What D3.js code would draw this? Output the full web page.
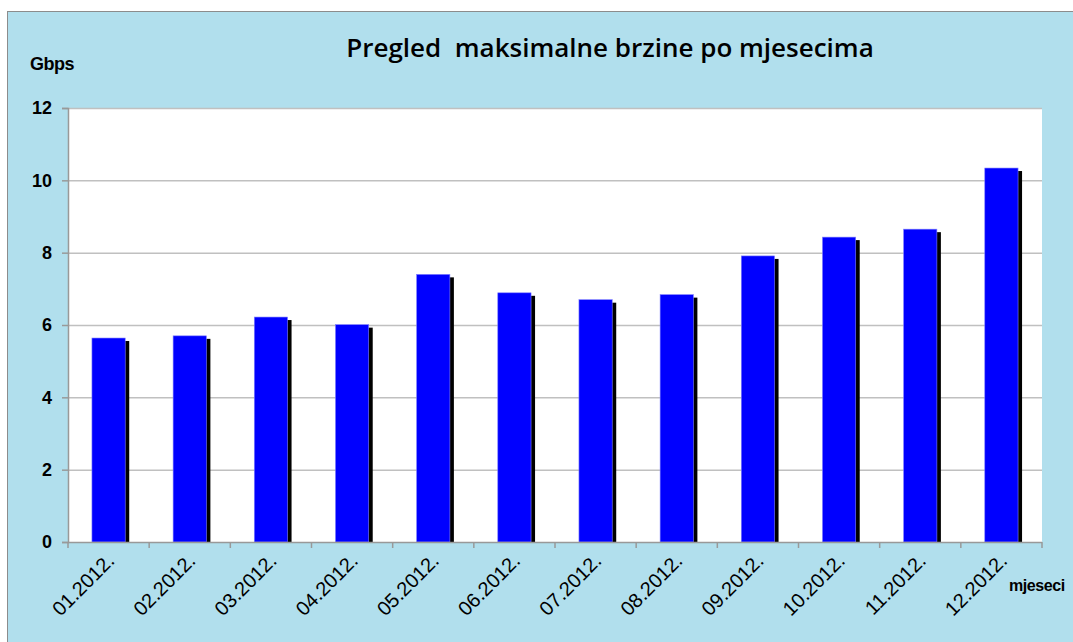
<!DOCTYPE html>
<html>
<head>
<meta charset="utf-8">
<script src="https://cdn.jsdelivr.net/npm/d3@7"></script>
<style>
  body { margin: 0; background: #fff; }
  svg { display: block; }
</style>
</head>
<body>
<svg id="chart" width="1073" height="642"></svg>
<script>
// data
var months = ["01.2012.", "02.2012.", "03.2012.", "04.2012.", "05.2012.", "06.2012.",
              "07.2012.", "08.2012.", "09.2012.", "10.2012.", "11.2012.", "12.2012."];
var speeds = [5.64, 5.70, 6.22, 6.01, 7.40, 6.89, 6.70, 6.84, 7.91, 8.43, 8.65, 10.34];
var yTicks = [0, 2, 4, 6, 8, 10, 12];

var svg = d3.select("#chart");

// panel
svg.append("rect")
    .attr("x", 7.5).attr("y", 11.5)
    .attr("width", 1080).attr("height", 650)
    .attr("fill", "#b1dfed")
    .attr("stroke", "#8c8c8c");

var margin = {left: 68, top: 108, right: 1042, bottom: 542};

var x = d3.scaleBand()
    .domain(months)
    .range([margin.left, margin.right])
    .paddingInner(0.59).paddingOuter(0.295);

var y = d3.scaleLinear()
    .domain([0, 12])
    .range([margin.bottom, margin.top]);

// plot area
svg.append("rect")
    .attr("x", margin.left).attr("y", margin.top)
    .attr("width", margin.right - margin.left)
    .attr("height", margin.bottom - margin.top)
    .attr("fill", "#fff");

// gridlines
svg.append("g")
    .selectAll("line")
    .data(yTicks.slice(1))
    .enter()
    .append("line")
    .attr("x1", margin.left).attr("x2", margin.right)
    .attr("y1", function (d) { return y(d) + 0.5; })
    .attr("y2", function (d) { return y(d) + 0.5; })
    .attr("stroke", "#c0c0c0")
    .attr("stroke-width", 1.5);

// bars, shadow first
svg.append("g")
    .selectAll("rect")
    .data(speeds)
    .enter()
    .append("rect")
    .attr("x", function (d, i) { return x(months[i]) + 4; })
    .attr("y", function (d) { return y(d) + 3; })
    .attr("width", x.bandwidth())
    .attr("height", function (d) { return margin.bottom - y(d) - 3; })
    .attr("fill", "#000");

svg.append("g")
    .selectAll("rect")
    .data(speeds)
    .enter()
    .append("rect")
    .attr("x", function (d, i) { return x(months[i]); })
    .attr("y", function (d) { return y(d); })
    .attr("width", x.bandwidth())
    .attr("height", function (d) { return margin.bottom - y(d); })
    .attr("fill", "#0000ff")
    .attr("stroke", "#8080ff")
    .attr("stroke-width", 0.6);

// y axis
var yAxis = svg.append("g")
    .attr("transform", "translate(" + margin.left + ",0)")
    .call(d3.axisLeft(y).tickValues(yTicks).tickSize(6).tickPadding(10));
yAxis.select(".domain").attr("stroke", "#999").attr("stroke-width", 1.5);
yAxis.selectAll(".tick line").attr("stroke", "#999").attr("stroke-width", 1.5);
yAxis.selectAll("text")
    .style("font-family", "Arial, 'Liberation Sans', sans-serif")
    .style("font-size", "18px")
    .style("font-weight", "bold")
    .attr("fill", "#000");

// x axis, ticks on the category boundaries
var bounds = d3.range(months.length + 1).map(function (i) {
    return margin.left + i * (margin.right - margin.left) / months.length;
});
svg.append("line")
    .attr("x1", margin.left).attr("x2", margin.right)
    .attr("y1", margin.bottom + 0.5).attr("y2", margin.bottom + 0.5)
    .attr("stroke", "#999").attr("stroke-width", 1.5);
svg.append("g")
    .selectAll("line")
    .data(bounds)
    .enter()
    .append("line")
    .attr("x1", function (d) { return d; })
    .attr("x2", function (d) { return d; })
    .attr("y1", margin.bottom).attr("y2", margin.bottom + 6)
    .attr("stroke", "#999").attr("stroke-width", 1.5);

svg.append("g")
    .selectAll("text")
    .data(months)
    .enter()
    .append("text")
    .attr("transform", function (d) {
        return "translate(" + (x(d) + x.bandwidth() / 2 + 7) + "," + (margin.bottom + 20) + ") rotate(-45)";
    })
    .attr("text-anchor", "end")
    .style("font-family", "Arial, 'Liberation Sans', sans-serif")
    .style("font-size", "20px")
    .attr("fill", "#000")
    .text(function (d) { return d; });

// titles
svg.append("text")
    .attr("x", 610).attr("y", 57)
    .attr("text-anchor", "middle")
    .style("font-family", "'Open Sans', sans-serif")
    .style("font-size", "26px")
    .style("font-weight", "600")
    .style("white-space", "pre")
    .attr("fill", "#000")
    .text("Pregled  maksimalne brzine po mjesecima");

svg.append("text")
    .attr("x", 30).attr("y", 70)
    .style("font-family", "Arial, 'Liberation Sans', sans-serif")
    .style("font-size", "18px")
    .style("font-weight", "bold")
    .style("letter-spacing", "-0.5px")
    .attr("fill", "#000")
    .text("Gbps");

svg.append("text")
    .attr("x", 1009).attr("y", 591)
    .style("font-family", "Arial, 'Liberation Sans', sans-serif")
    .style("font-size", "16px")
    .style("font-weight", "bold")
    .style("letter-spacing", "-0.4px")
    .attr("fill", "#000")
    .text("mjeseci");
</script>
</body>
</html>
